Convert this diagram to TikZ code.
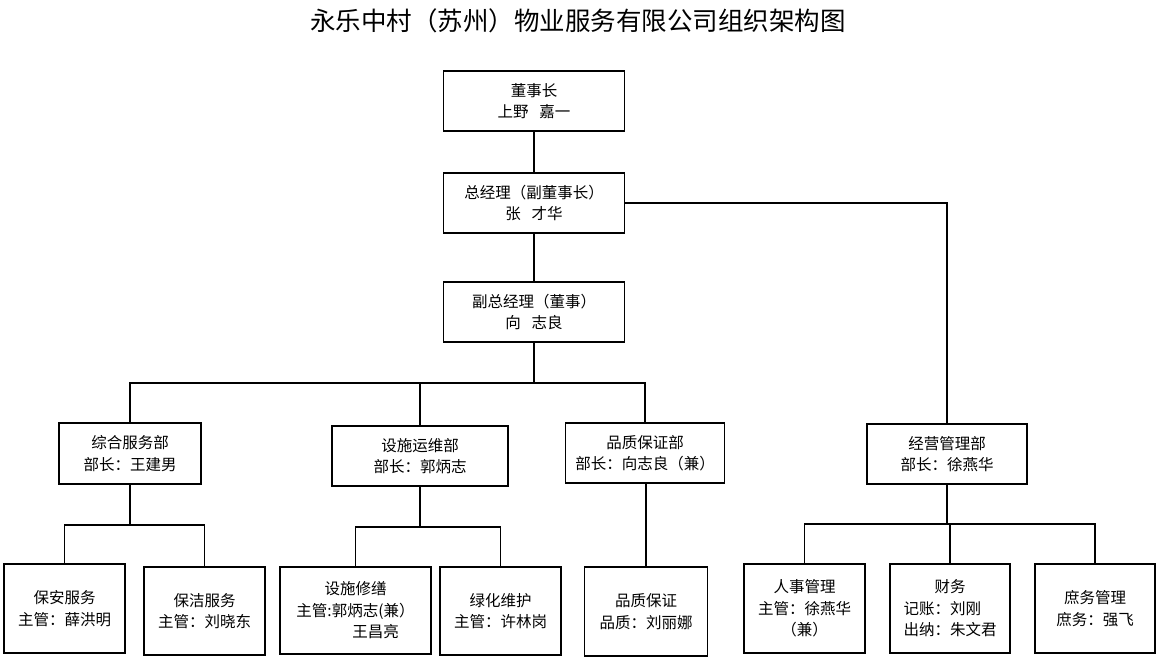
\documentclass[tikz,border=0pt]{standalone}
\usepackage{fontspec}
\setmainfont{Noto Sans CJK SC}
\begin{document}
\begin{tikzpicture}[x=1pt,y=-1pt,
  box/.style={draw=black,line width=1.4pt,inner sep=0pt,align=center,
    font=\fontsize{15.5}{21.5}\selectfont},
  link/.style={draw=black,line width=1.4pt}]
\useasboundingbox[fill=white] (0,0) rectangle (1156,667);
\node (title) at (578,21) {\fontsize{25.5}{30}\selectfont 永乐中村（苏州）物业服务有限公司组织架构图};
% top chain
\node[box,minimum width=181pt,minimum height=60pt] (dsz) at (534,101) {董事长\\上野\hspace{0.7em}嘉一};
\node[box,minimum width=181pt,minimum height=60pt] (zjl) at (534,203) {总经理（副董事长）\\张\hspace{0.7em}才华};
\node[box,minimum width=181pt,minimum height=60pt] (fzjl) at (534,312) {副总经理（董事）\\向\hspace{0.7em}志良};
% departments
\node[box,minimum width=142pt,minimum height=61pt] (zh) at (130,453.5) {综合服务部\\部长：王建男};
\node[box,minimum width=176pt,minimum height=60pt] (ss) at (420,456) {设施运维部\\部长：郭炳志};
\node[box,minimum width=159pt,minimum height=60pt] (pz) at (645,453) {品质保证部\\部长：向志良（兼）};
\node[box,minimum width=160pt,minimum height=60pt] (jy) at (947,454) {经营管理部\\部长：徐燕华};
% bottom boxes
\node[box,minimum width=121pt,minimum height=89pt] (ba) at (64.5,608.5) {保安服务\\主管：薛洪明};
\node[box,minimum width=121pt,minimum height=88pt] (bj) at (204.5,611) {保洁服务\\主管：刘晓东};
\node[box,minimum width=151pt,minimum height=87pt] (ssxs) at (355.5,610.5) {设施修缮\\主管:郭炳志(兼）\\\hspace*{40pt}王昌亮};
\node[box,minimum width=121pt,minimum height=88pt] (lh) at (500.5,611) {绿化维护\\主管：许林岗};
\node[box,minimum width=123pt,minimum height=89pt] (pzbz) at (646,611.5) {品质保证\\品质：刘丽娜};
\node[box,minimum width=121pt,minimum height=89pt] (rs) at (804.5,608.5) {人事管理\\主管：徐燕华\\（兼）};
\node[box,minimum width=120pt,minimum height=89pt] (cw) at (950,608.5) {财务\\\makebox[93pt][l]{记账：刘刚}\\出纳：朱文君};
\node[box,minimum width=120pt,minimum height=89pt] (sw) at (1095,608.5) {庶务管理\\庶务：强飞};
% bus coordinates
\coordinate (bus1) at (534,383);
\coordinate (bzh) at (130,525);
\coordinate (bss) at (420,527);
\coordinate (bjy) at (947,524);
% connectors
\draw[link] (dsz.south) -- (zjl.north);
\draw[link] (zjl.south) -- (fzjl.north);
\draw[link] (zjl.east) -| (jy.north);
\draw[link] (fzjl.south) -- (bus1);
\draw[link] (zh.north) |- (bus1) -| (pz.north);
\draw[link] (ss.north) -- (ss.north |- bus1);
\draw[link] (zh.south) -- (bzh);
\draw[link] (ba.north) |- (bzh) -| (bj.north);
\draw[link] (ss.south) -- (bss);
\draw[link] (ssxs.north) |- (bss) -| (lh.north);
\draw[link] (pz.south -| pzbz.north) -- (pzbz.north);
\draw[link] (jy.south) -- (bjy);
\draw[link] (rs.north) |- (bjy) -| (sw.north);
\draw[link] (cw.north) -- (cw.north |- bjy);
\end{tikzpicture}
\end{document}
